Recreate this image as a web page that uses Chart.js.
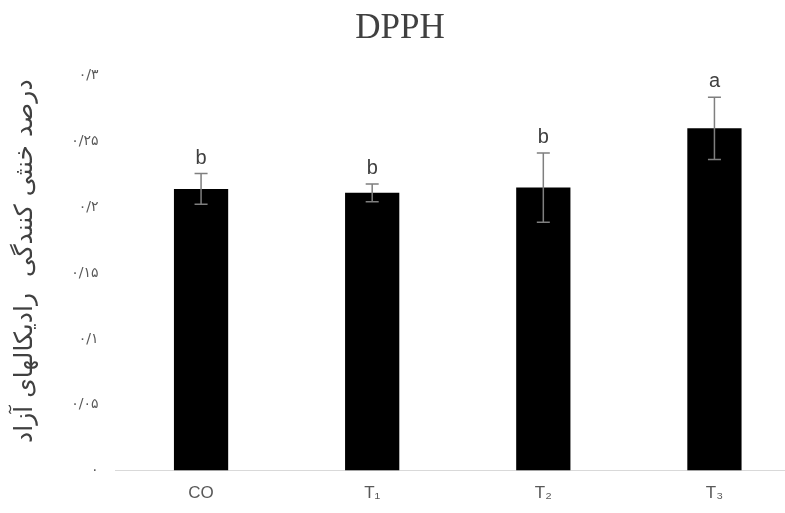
<!DOCTYPE html>
<html>
<head>
<meta charset="utf-8">
<script src="https://cdn.jsdelivr.net/npm/chart.js@4.4.0/dist/chart.umd.min.js"></script>
<style>
  html, body { margin: 0; padding: 0; background: #fff; overflow: hidden; }
</style>
</head>
<body>
<canvas id="dpph" width="800" height="513"></canvas>
<script>
const categories = ['CO', 'T₁', 'T₂', 'T₃'];
const means = [0.214, 0.211, 0.215, 0.260];
const errors = [0.0116, 0.0068, 0.0263, 0.0237];
const letters = ['b', 'b', 'b', 'a'];
const yTickLabels = ['۰', '۰/۰۵', '۰/۱', '۰/۱۵', '۰/۲', '۰/۲۵', '۰/۳'];

// error bars + group letters on top of the bars
const errorBars = {
  id: 'errorBars',
  afterDatasetsDraw(chart) {
    const ctx = chart.ctx;
    const y = chart.scales.y;
    const bars = chart.getDatasetMeta(0).data;
    ctx.save();
    for (let i = 0; i < bars.length; i++) {
      const x = bars[i].x;
      const top = y.getPixelForValue(means[i] + errors[i]);
      const bot = y.getPixelForValue(means[i] - errors[i]);
      ctx.strokeStyle = '#7f7f7f';
      ctx.lineWidth = 1.5;
      ctx.beginPath();
      ctx.moveTo(x, top); ctx.lineTo(x, bot);
      ctx.moveTo(x - 6.5, top); ctx.lineTo(x + 6.5, top);
      ctx.moveTo(x - 6.5, bot); ctx.lineTo(x + 6.5, bot);
      ctx.stroke();

      ctx.fillStyle = '#404040';
      ctx.font = '20px "Liberation Sans"';
      ctx.textAlign = 'center';
      ctx.textBaseline = 'alphabetic';
      ctx.fillText(letters[i], x, top - 10);
    }
    ctx.restore();
  }
};

const ctx = document.getElementById('dpph').getContext('2d');
const chart = new Chart(ctx, {
  type: 'bar',
  data: {
    labels: categories,
    datasets: [{
      data: means,
      backgroundColor: '#000000',
      borderWidth: 0,
      barPercentage: 0.317,
      categoryPercentage: 1.0
    }]
  },
  options: {
    responsive: false,
    animation: false,
    layout: { padding: 0 },
    plugins: {
      legend: { display: false },
      tooltip: { enabled: false },
      title: {
        display: true,
        text: 'DPPH',
        color: '#404040',
        font: { family: '"Liberation Serif"', size: 35, weight: 'normal' },
        padding: { top: 8, bottom: 25.7 }
      }
    },
    scales: {
      x: {
        grid: { display: false, drawTicks: false },
        border: { display: true, color: '#d9d9d9', width: 1 },
        ticks: { color: '#595959', font: { family: '"Liberation Sans"', size: 17 }, padding: 13 },
        afterFit(scale) { scale.height = 42.5; }
      },
      y: {
        min: 0,
        max: 0.3,
        grid: { display: false, drawTicks: false },
        border: { display: false },
        ticks: {
          stepSize: 0.05,
          color: '#595959',
          padding: 17,
          font: { family: '"DejaVu Sans"', size: 14 },
          callback: (v, i) => yTickLabels[i]
        },
        title: {
          display: true,
          text: '   درصد خنثی کنندگی  رادیکالهای آزاد',
          color: '#404040',
          font: { family: '"DejaVu Sans"', size: 25 },
          padding: { top: 10, bottom: 0 }
        },
        afterFit(scale) { scale.width = 115.5; }
      }
    }
  },
  plugins: [errorBars]
});
</script>
</body>
</html>
